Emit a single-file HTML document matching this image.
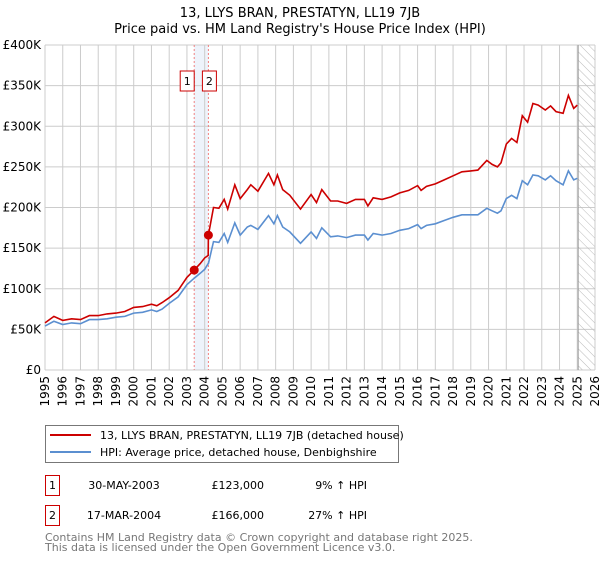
<!DOCTYPE html>
<html><head><meta charset="utf-8"><style>
body{margin:0;background:#fff;font-family:"DejaVu Sans","Liberation Sans",sans-serif;}
svg text{font-family:"DejaVu Sans","Liberation Sans",sans-serif;}
</style></head><body>
<svg id="chart" width="600" height="560" xmlns="http://www.w3.org/2000/svg">
<text x="300" y="17" text-anchor="middle" font-size="13">13, LLYS BRAN, PRESTATYN, LL19 7JB</text>
<text x="300" y="33" text-anchor="middle" font-size="13">Price paid vs. HM Land Registry's House Price Index (HPI)</text>
<defs><pattern id="hatch" width="6" height="6" patternUnits="userSpaceOnUse" patternTransform="rotate(-45)"><line x1="0" y1="0" x2="0" y2="6" stroke="#bbb" stroke-width="1"/></pattern></defs>
<g id="grid"></g>
<g id="marks"></g>
<g id="axes"></g>
<g>
<rect x="45.5" y="425.5" width="353" height="37" fill="#fff" stroke="#777"/>
<line x1="50" y1="435" x2="91" y2="435" stroke="#cc0000" stroke-width="2"/>
<text x="100" y="439" font-size="11">13, LLYS BRAN, PRESTATYN, LL19 7JB (detached house)</text>
<line x1="50" y1="452" x2="91" y2="452" stroke="#5b8fd0" stroke-width="2"/>
<text x="100" y="456" font-size="11">HPI: Average price, detached house, Denbighshire</text>
</g>
<g font-size="11">
<rect x="45.5" y="475.5" width="14" height="20" fill="#fff" stroke="#cc0000"/>
<text x="52.5" y="489" text-anchor="middle">1</text>
<text x="124" y="489" text-anchor="middle">30-MAY-2003</text>
<text x="264" y="489" text-anchor="end">£123,000</text>
<text x="367" y="489" text-anchor="end">9% ↑ HPI</text>
<rect x="45.5" y="505.5" width="14" height="20" fill="#fff" stroke="#cc0000"/>
<text x="52.5" y="519" text-anchor="middle">2</text>
<text x="124" y="519" text-anchor="middle">17-MAR-2004</text>
<text x="264" y="519" text-anchor="end">£166,000</text>
<text x="367" y="519" text-anchor="end">27% ↑ HPI</text>
</g>
<text x="45" y="541" font-size="11" fill="#777">Contains HM Land Registry data © Crown copyright and database right 2025.</text>
<text x="45" y="551" font-size="11" fill="#777">This data is licensed under the Open Government Licence v3.0.</text>
</svg>
<script>
const years=[1995.0,1995.5,1996.0,1996.5,1997.0,1997.5,1998.0,1998.5,1999.0,1999.5,2000.0,2000.5,2001.0,2001.3,2001.6,2002.0,2002.5,2003.0,2003.41,2003.75,2004.0,2004.2,2004.21,2004.5,2004.8,2005.1,2005.3,2005.7,2006.0,2006.4,2006.6,2007.0,2007.6,2007.9,2008.1,2008.4,2008.8,2009.4,2010.0,2010.3,2010.6,2011.1,2011.5,2012.0,2012.5,2013.0,2013.2,2013.5,2014.0,2014.5,2015.0,2015.5,2016.0,2016.2,2016.5,2017.0,2017.5,2018.0,2018.5,2019.0,2019.4,2019.9,2020.2,2020.5,2020.7,2021.0,2021.3,2021.6,2021.9,2022.2,2022.5,2022.8,2023.2,2023.5,2023.8,2024.2,2024.5,2024.8,2025.0];
const hpiValues=[54,60,56,58,57,62,62,63,65,66,70,71,74,72,75,82,90,105,113,119,124,131,131,158,157,168,157,181,166,176,178,173,190,180,190,176,170,156,170,162,175,164,165,163,166,166,160,168,166,168,172,174,179,174,178,180,184,188,191,191,191,199,196,193,196,211,215,211,233,228,240,239,234,239,233,228,245,234,236];
const propertyValues=[58,66,61,63,62,67,67,69,70,72,77,78,81,79,83,89,98,114,123,131,138,141,166,200,199,210,198,228,211,222,228,220,242,228,240,222,215,198,216,206,222,208,208,205,210,210,202,212,210,213,218,221,227,221,226,229,234,239,244,245,246,258,253,250,255,278,285,280,313,305,328,326,320,325,318,316,338,322,326];
const saleYears=[2003.41,2004.21];
const salePrices=[123,166];
const saleLabels=["1","2"];
const yTicks=[0,50,100,150,200,250,300,350,400];
const yTickLabels=["£0","£50K","£100K","£150K","£200K","£250K","£300K","£350K","£400K"];
const xTicks=[1995,1996,1997,1998,1999,2000,2001,2002,2003,2004,2005,2006,2007,2008,2009,2010,2011,2012,2013,2014,2015,2016,2017,2018,2019,2020,2021,2022,2023,2024,2025,2026];
const dataEnd=2025.05;

const NS="http://www.w3.org/2000/svg";
const L=45,R=595,T=45,B=370;
const X=y=>L+(y-1995)/(2026-1995)*(R-L);
const Y=v=>B-v/400*(B-T);
function mk(tag,attrs,parent){const e=document.createElementNS(NS,tag);for(const k in attrs)e.setAttribute(k,attrs[k]);parent.appendChild(e);return e;}
const grid=document.getElementById('grid'),marks=document.getElementById('marks'),axes=document.getElementById('axes');
const band=mk('rect',{x:X(saleYears[0]),y:T,width:X(saleYears[1])-X(saleYears[0]),height:B-T,fill:'#eef3fb'},grid);


yTicks.forEach((t,i)=>{
  const l=mk('line',{x1:L,x2:R,y1:Y(t),y2:Y(t),stroke:'#ccc','stroke-width':1},grid);
  
  
  const tx=mk('text',{x:L-4,y:Y(t)+4,'text-anchor':'end','font-size':12},axes);
  tx.textContent=yTickLabels[i];
  
  
});
xTicks.forEach(t=>{
  const l=mk('line',{x1:X(t),x2:X(t),y1:T,y2:B,stroke:'#ccc','stroke-width':1},grid);
  
  
  const tx=mk('text',{x:0,y:0,'text-anchor':'end','font-size':12,transform:`translate(${X(t)+4},${B+6}) rotate(-90)`},axes);
  tx.textContent=String(t);
  
  
});
const hatch=mk('rect',{x:X(dataEnd),y:T,width:R-X(dataEnd),height:B-T,fill:'url(#hatch)'},grid);


const endLine=mk('line',{x1:X(dataEnd),x2:X(dataEnd),y1:T,y2:B,stroke:'#999','stroke-width':1},grid);


saleYears.forEach((s,i)=>{
  const l=mk('line',{x1:X(s),x2:X(s),y1:T,y2:B,stroke:'#f08080','stroke-width':1,'stroke-dasharray':'2,2'},grid);
  
  
});
const pts=v=>years.map((y,i)=>X(y).toFixed(1)+','+Y(v[i]).toFixed(1)).join(' ');
const hpiLine=mk('polyline',{points:pts(hpiValues),fill:'none',stroke:'#5b8fd0','stroke-width':1.6},marks);


const propLine=mk('polyline',{points:pts(propertyValues),fill:'none',stroke:'#cc0000','stroke-width':1.6},marks);


saleYears.forEach((s,i)=>{
  const c=mk('circle',{cx:X(s),cy:Y(salePrices[i]),r:4.5,fill:'#cc0000'},marks);
  
  
  const bx=i===0?X(s)-14:X(s)-6;
  const r=mk('rect',{x:bx,y:71,width:14,height:20,fill:'#fff',stroke:'#cc0000'},marks);
  
  
  const t=mk('text',{x:bx+7,y:85,'text-anchor':'middle','font-size':11},marks);
  t.textContent=saleLabels[i];
  
  
});
</script>
</body></html>
